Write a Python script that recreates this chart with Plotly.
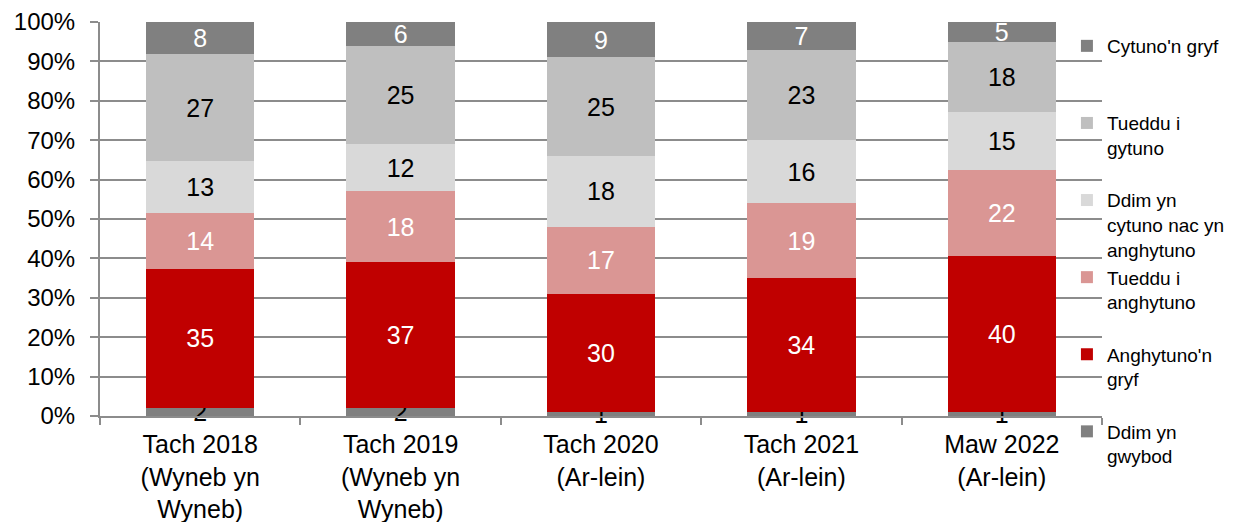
import plotly.graph_objects as go

categories = ["Tach 2018<br>(Wyneb yn<br>Wyneb)", "Tach 2019<br>(Wyneb yn<br>Wyneb)",
              "Tach 2020<br>(Ar-lein)", "Tach 2021<br>(Ar-lein)", "Maw 2022<br>(Ar-lein)"]

ddim_gwybod = [2, 2, 1, 1, 1]
anghytuno_gryf = [35, 37, 30, 34, 40]
tueddu_anghytuno = [14, 18, 17, 19, 22]
ddim_cytuno_nac = [13, 12, 18, 16, 15]
tueddu_gytuno = [27, 25, 25, 23, 18]
cytuno_gryf = [8, 6, 9, 7, 5]

y_tick_values = [0, 10, 20, 30, 40, 50, 60, 70, 80, 90, 100]
y_tick_labels = ["0%", "10%", "20%", "30%", "40%", "50%", "60%", "70%", "80%", "90%", "100%"]

series_names = ["Ddim yn<br>gwybod", "Anghytuno'n<br>gryf", "Tueddu i<br>anghytuno",
                "Ddim yn<br>cytuno nac yn<br>anghytuno", "Tueddu i<br>gytuno", "Cytuno'n gryf"]
series_values = [ddim_gwybod, anghytuno_gryf, tueddu_anghytuno, ddim_cytuno_nac, tueddu_gytuno, cytuno_gryf]
series_colors = ["#808080", "#C00000", "#DA9694", "#D9D9D9", "#BFBFBF", "#808080"]
label_colors = ["black", "white", "white", "black", "black", "white"]

FONT = "Liberation Sans, Arial, sans-serif"

def pad(name):
    n = name.count("<br>") + 1
    return name + "<br>\u00a0" * (3 - n)

fig = go.Figure()
n_series = len(series_names)
for i, (nm, vals, col, lc) in enumerate(zip(series_names, series_values, series_colors, label_colors)):
    fig.add_trace(go.Bar(
        x=categories, y=vals, name=pad(nm), marker=dict(color=col, line=dict(width=0)),
        text=vals, texttemplate="%{text}", textposition="inside", insidetextanchor="middle",
        textangle=0, textfont=dict(color=lc, size=25, family=FONT), legendgroup=str(i),
        legendrank=n_series - i, cliponaxis=False,
    ))

# page body has an 8px margin in the browser, so the figure is sized/offset to fit the window
fig.update_layout(
    width=1242, height=514,
    barmode="stack", barnorm="percent", bargap=0.46,
    plot_bgcolor="white", paper_bgcolor="white",
    margin=dict(l=92, r=148, t=14, b=106, autoexpand=False),
    font=dict(family=FONT, color="black", size=24),
    uniformtext=dict(minsize=25, mode="show"),
    legend=dict(
        x=0.965, xanchor="left", yref="container", y=1 - 19 / 514, yanchor="top",
        traceorder="grouped", tracegroupgap=0, valign="top", maxheight=1,
        font=dict(size=19, family=FONT), itemwidth=30, bgcolor="rgba(0,0,0,0)",
    ),
)
fig.update_yaxes(
    range=[0, 100.001], tickvals=y_tick_values, ticktext=y_tick_labels, showgrid=True,
    gridcolor="#8C8C8C", gridwidth=2,
    showline=True, linecolor="#8C8C8C", linewidth=2, ticks="outside", ticklen=8,
    tickcolor="#8C8C8C", tickwidth=2, tickfont=dict(size=24), zeroline=False,
    ticklabelstandoff=10, automargin=False,
)
fig.update_xaxes(
    showline=True, linecolor="#8C8C8C", linewidth=2, ticks="outside", ticklen=7,
    tickcolor="#8C8C8C", tickwidth=2, tickson="boundaries", tickfont=dict(size=25),
    ticklabelstandoff=5, automargin=False,
)

fig.write_html("out.html")
